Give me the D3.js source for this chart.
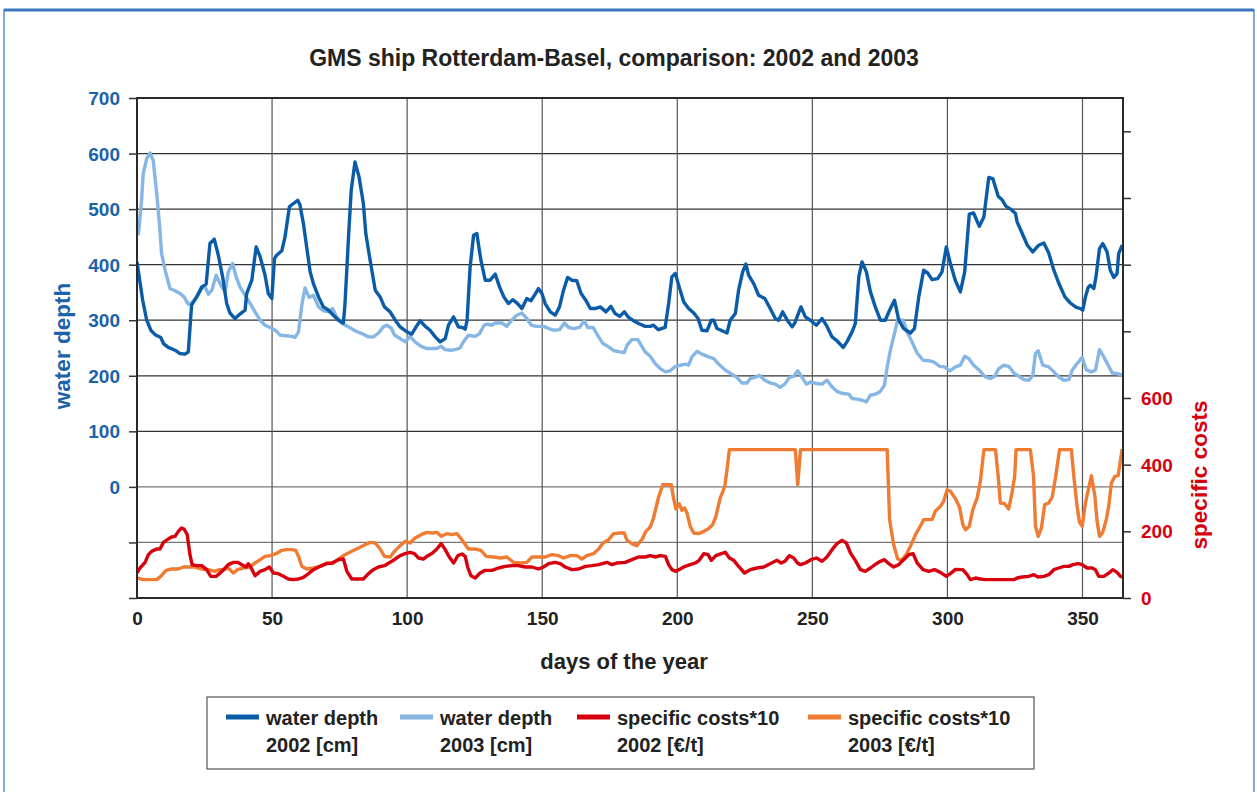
<!DOCTYPE html>
<html>
<head>
<meta charset="utf-8">
<script src="https://cdn.jsdelivr.net/npm/d3@7"></script>
<style>
  body { margin: 0; background: #fff; }
  text { font-family: "Liberation Sans", Arial, sans-serif; font-weight: bold; }
</style>
</head>
<body>
<div id="vis-container"></div>
<script>
// days of the year (x) and values
depth2002 = [[0,405],[2.1,336],[3.6,300],[5.1,282],[6.7,274],[8.8,269],[9.8,258],[11.6,251],[14.1,246],[15.9,240],[17.8,239],[19,243],[20.2,327],[22.1,342],[24,360],[25.6,365],[27,438],[28.6,446],[30.1,417],[31.7,378],[33.2,330],[34.4,313],[36.3,303],[38.1,311],[40,318],[40.6,348],[42.5,372],[44.1,432],[45.6,414],[47.4,381],[48.6,348],[49.9,339],[50.9,411],[51.7,417],[53.6,425],[54.8,450],[56.4,504],[57.9,510],[59.5,516],[60.3,508],[61.6,474],[62.8,432],[64.1,387],[65.3,366],[67.2,342],[69,324],[70.9,318],[72.7,309],[74.6,300],[76.4,295],[77,330],[78.3,450],[79.3,534],[80.7,585],[82.2,558],[83.8,510],[84.7,456],[86.3,408],[88.2,354],[90,342],[91.6,324],[93.7,315],[95.6,300],[97.4,288],[99.9,279],[101.7,275],[103.2,287],[104.8,299],[106.7,289],[108.5,282],[110.4,270],[112.2,261],[114.1,267],[115.3,291],[117.2,306],[119,288],[120.5,287],[121.5,284],[122.2,300],[123.3,395],[124.6,453],[125.8,456],[127.3,408],[128.9,372],[130.7,372],[132.6,383],[134.2,360],[135.8,342],[137.5,330],[139.1,337],[140.9,330],[142.5,321],[144.3,339],[145.8,335],[147.4,347],[148.6,357],[149.9,348],[151.1,330],[153,315],[154.8,309],[156.4,324],[157.9,354],[159.4,377],[161,372],[162.8,371],[164.4,348],[166,337],[167.8,321],[169.6,321],[171.5,324],[173.6,315],[175.4,325],[177,312],[178.7,307],[180.4,315],[182,305],[183.5,300],[185.7,294],[188.1,289],[190,289],[191.2,291],[193,283],[195.5,287],[196.8,330],[198,378],[199.3,384],[200.7,360],[202.4,333],[204.2,321],[206.1,313],[207.7,303],[209.1,282],[211,281],[212.6,300],[213.5,300],[214.7,285],[216.6,281],[218.4,277],[219.6,300],[221.5,312],[222.7,354],[224.2,387],[225.4,401],[226.4,381],[228.3,366],[230.1,345],[232.4,339],[234.4,321],[236.3,303],[237.5,300],[239,315],[240.6,301],[242.5,288],[243.5,295],[244.6,309],[245.8,324],[247.4,306],[249.3,300],[251.5,291],[253.6,303],[255.2,291],[257.3,270],[259.1,263],[261.4,251],[262.8,261],[264.7,279],[265.9,294],[267.2,378],[268.4,405],[270,387],[271.5,351],[273.3,324],[275.2,300],[277,300],[278.6,318],[280.4,336],[282,300],[283.8,285],[286.3,277],[287.8,285],[289.4,342],[291.2,390],[292.7,385],[294.3,373],[296.4,375],[298,387],[299.6,432],[301.1,402],[302.9,372],[304.8,351],[306.4,387],[308.1,491],[309.7,493],[311.8,469],[313.5,486],[315.3,557],[316.8,555],[318.8,523],[320.2,517],[321.7,505],[323.7,499],[325.2,492],[325.8,477],[327.7,456],[329.6,435],[331.6,423],[333.8,435],[335.7,439],[337.5,421],[339.4,390],[341.2,367],[343.5,342],[345.5,331],[347.7,323],[349.3,321],[350.1,318],[351.1,342],[352.1,359],[352.9,363],[354.2,357],[355,378],[356.3,429],[357.5,438],[359.1,423],[360.3,390],[361.6,377],[362.8,384],[363.4,420],[364.7,435]];

depth2003 = [[0.5,453],[1.7,516],[2.3,564],[3.6,591],[4.8,601],[6,588],[7.3,528],[8.3,474],[9.1,420],[10.4,390],[12.2,357],[14.1,353],[15.9,348],[17.4,342],[19,329],[20.2,331],[22.1,342],[24,357],[25.2,360],[26.4,347],[27.7,354],[29.3,381],[30.7,366],[32.6,351],[33.8,387],[35.4,402],[36.7,378],[38.1,360],[40,345],[41.9,330],[43.7,315],[45.6,300],[47.4,291],[49.3,287],[51.5,281],[53,273],[55.4,272],[57.3,271],[58.5,269],[59.8,279],[61,327],[62.2,358],[63.7,341],[65.3,345],[67.2,324],[69,317],[70.9,315],[72.4,321],[73.9,306],[75.8,294],[78.3,288],[80.7,281],[83.2,276],[85.7,270],[87.5,270],[89.4,277],[91.2,288],[92.5,291],[94.1,286],[95.4,273],[97.4,267],[99.3,261],[101.1,271],[102.9,261],[105.2,253],[107.3,249],[109.1,249],[111,249],[112.6,253],[114.1,247],[116,246],[117.8,247],[119.6,250],[120.8,261],[122.7,273],[125.2,271],[126.8,276],[128.5,291],[129.5,293],[131.4,291],[132.6,295],[135.1,295],[136.9,289],[138.8,301],[140.6,309],[142.5,313],[144.3,303],[146,291],[148,289],[150.5,289],[152.4,285],[154.2,282],[156.4,283],[158.2,295],[159.8,287],[161.6,285],[163.8,287],[165.6,299],[166.8,287],[168.8,287],[170.5,273],[172.5,258],[174.6,252],[176.7,245],[178.7,243],[180.4,242],[181.4,255],[183.2,265],[185.4,265],[186.9,253],[188.1,243],[190,235],[191.8,222],[193.7,213],[195.6,207],[197.4,209],[199.3,217],[201.1,219],[202.9,221],[204.2,219],[205.4,234],[207.3,244],[209.1,239],[211.6,234],[213.5,231],[215.3,221],[217.8,210],[220.2,203],[222.1,197],[223.9,187],[225.8,187],[227,195],[228.8,197],[230.4,201],[232.4,192],[234.4,187],[236.3,185],[238.1,179],[239.8,185],[241.5,197],[243.1,199],[244.6,209],[246.2,197],[247.8,185],[249.5,189],[251.5,186],[253.6,185],[255.4,192],[257.3,180],[259.1,172],[261.4,168],[263.5,167],[264.7,159],[266.5,158],[268.4,156],[270,153],[271.5,165],[273.3,167],[275,171],[276.7,183],[277.7,216],[278.9,246],[280.4,276],[281.6,301],[283.6,300],[285.1,279],[286.9,261],[288.8,241],[291,228],[293.1,227],[294.9,225],[297.2,217],[298.9,216],[300.9,209],[303,216],[304.8,219],[306.4,235],[307.9,231],[309.7,219],[311.8,210],[313.8,199],[315.9,195],[317.5,199],[319,213],[320.9,219],[322.7,217],[324.6,205],[326.5,199],[328.3,193],[330.2,192],[331.6,201],[332.6,240],[333.6,245],[335.3,219],[337.5,216],[339.4,207],[341.2,198],[343.1,192],[345,193],[346.2,210],[348,222],[349.9,233],[351.4,211],[353.3,207],[354.8,210],[356.3,247],[357.9,234],[359.5,219],[361,205],[362.8,204],[364.7,201]];

cost2002 = [[0,75],[1.1,90],[3,107],[4.2,130],[5.4,140],[7.3,147],[8.5,147],[9.8,167],[11.2,175],[12.8,183],[14.1,185],[15.3,200],[16.5,210],[17.4,207],[18.6,190],[19.6,130],[20.4,100],[22.1,97],[24,97],[25.8,85],[27.3,65],[29.3,65],[30.5,73],[32,85],[33.8,100],[35.7,107],[37.2,107],[38.8,100],[40.4,93],[41.2,103],[42.1,93],[43.7,67],[45.6,80],[47.4,85],[49,93],[50.5,75],[52.3,73],[54.2,65],[56,57],[57.9,55],[59.8,57],[61.6,62],[63.5,73],[65.3,85],[67.8,95],[70.2,103],[72.1,105],[74.6,115],[76.4,117],[77.7,80],[79.5,57],[81.4,57],[83.8,57],[85.7,73],[87.5,85],[89.4,93],[91.6,97],[93.7,107],[95.6,117],[97.4,127],[99.3,133],[101.1,137],[102.7,133],[104.2,120],[106,117],[107.7,127],[109.4,135],[111,147],[112.6,163],[114.1,145],[115.6,123],[117.2,105],[118.8,127],[120.3,132],[121.5,125],[122.5,90],[123.6,67],[125.2,60],[127,75],[128.9,83],[131.4,83],[133.8,90],[136.3,95],[138.8,97],[141.2,97],[143.7,93],[146.2,93],[148.6,87],[150.5,93],[152.4,103],[154.8,107],[156.7,103],[158.5,93],[161,85],[163.5,87],[166,95],[168.4,97],[170.9,100],[174,107],[175.8,100],[177.7,105],[180.7,107],[183.2,115],[185.7,123],[188.1,123],[190,127],[191.9,123],[193.7,127],[195.6,125],[196.8,100],[198,85],[199.5,80],[201.1,87],[202.9,95],[204.8,100],[206.7,105],[208.1,113],[209.8,133],[211.4,130],[212.6,113],[214.3,127],[216.3,133],[217.8,137],[219.3,120],[220.9,113],[222.7,95],[224.9,75],[227,85],[229.5,90],[232,93],[234.4,103],[236.9,113],[238.5,105],[239.8,110],[241.5,127],[243.1,120],[244.5,105],[245.6,100],[247.4,105],[249.5,115],[251.5,120],[253.6,110],[255.4,123],[257.3,145],[259.1,163],[261,173],[262.6,165],[264.1,135],[265.9,113],[267.8,85],[269.6,80],[271.5,90],[273.7,103],[275.2,110],[276.7,115],[278.3,103],[280.1,93],[282,100],[283.8,115],[285.7,130],[287.3,133],[288.8,105],[291,85],[293.1,80],[295.2,85],[297.4,77],[299.6,65],[301.1,73],[303,86],[305.7,85],[307.3,70],[308.5,55],[310.4,60],[312.2,57],[314,55],[316.5,55],[319,55],[322,55],[324.6,55],[325.8,60],[327.7,63],[330.1,65],[332,70],[333.6,63],[335.7,65],[337.5,70],[339.4,85],[341.2,90],[343.1,95],[345,95],[346.4,100],[348.4,103],[349.9,100],[351.7,90],[353.6,90],[354.8,85],[356,65],[357.9,65],[359.8,75],[361.2,85],[362.8,77],[364.1,65],[364.7,63]];

cost2003 = [[0,60],[2.3,55],[4.8,55],[7.3,55],[8.8,65],[10.7,83],[12.8,87],[15.3,87],[17.2,93],[19.4,93],[21.5,93],[24,87],[26.4,85],[28.9,80],[30.5,85],[32.2,85],[33.8,90],[35.7,75],[37.2,85],[39.4,90],[41.6,93],[43.7,105],[45.6,115],[47.4,125],[49.3,127],[51.5,133],[53.6,143],[55.4,145],[57.3,145],[58.8,143],[59.8,125],[61,95],[62.8,87],[65.3,90],[67.8,95],[70.2,105],[72.4,103],[74.6,117],[77,130],[79.5,140],[82,150],[84.4,160],[86.3,167],[88.2,165],[90,147],[91.6,125],[93.7,123],[95.3,140],[97.4,157],[99.3,170],[101.1,165],[102.9,180],[105.2,190],[107.3,197],[109.4,195],[111,197],[112.6,185],[114.7,193],[116.5,190],[118.4,193],[119.8,180],[121.1,165],[122.7,147],[125.2,147],[127.3,143],[129.3,125],[132,123],[134.5,120],[136.9,123],[139.4,107],[141.9,105],[144.3,107],[146.2,123],[148.6,123],[151.1,123],[153.6,130],[156.1,127],[157.9,120],[160.4,127],[162.8,127],[164.7,117],[166.5,127],[169,133],[170.9,147],[172.5,165],[174.6,175],[176.4,193],[178.7,195],[180.4,195],[181.4,173],[183.2,163],[185,157],[186.9,175],[188.4,200],[190,213],[191.2,240],[193,300],[194.6,340],[196.2,340],[197.8,340],[198.6,300],[199.5,267],[200.7,283],[201.7,263],[202.7,270],[203.6,255],[204.8,215],[206.1,195],[207.9,193],[209.8,200],[211.4,207],[213.1,220],[214.3,245],[215.9,300],[217.6,335],[218.4,385],[219.3,445],[243.7,445],[244.6,340],[245.6,445],[277.7,445],[278.6,235],[280.1,160],[281.6,117],[282.9,113],[284.5,127],[286.3,155],[288.2,190],[289.8,213],[291.2,235],[292.7,235],[294.3,235],[295.5,260],[297.4,275],[298.6,290],[299.9,325],[301.1,320],[303,298],[304.5,272],[305.7,220],[306.7,205],[308.1,215],[309.4,265],[311,300],[312.2,350],[313.5,445],[317.8,445],[318.8,365],[319.6,285],[321.2,283],[322.7,267],[323.9,315],[324.9,365],[325.4,445],[330.7,445],[331.9,365],[332.6,215],[333.6,185],[334.8,210],[336,280],[337.5,285],[338.8,303],[340,360],[341.5,445],[345.9,445],[346.8,365],[348,275],[348.9,227],[349.9,215],[351.1,285],[352.3,330],[353.3,367],[354.6,305],[355.4,230],[356.3,185],[357.5,197],[358.8,235],[359.8,280],[360.7,345],[362,365],[363.2,367],[364.1,415],[364.7,447]];

xTicks = [0,50,100,150,200,250,300,350];
leftTicks = [-200,-100,0,100,200,300,400,500,600,700];
rightTicks = [0,200,400,600,800,1000,1200,1400];

legendItems = [
  {line1: "water depth", line2: "2002 [cm]", color: "#0a5ca8"},
  {line1: "water depth", line2: "2003 [cm]", color: "#86b6e4"},
  {line1: "specific costs*10", line2: "2002 [€/t]", color: "#d7000f"},
  {line1: "specific costs*10", line2: "2003 [€/t]", color: "#f07b32"}
];

chart = {
  "W": 1257, "H": 792,
  "plot": {"left": 137, "right": 1123, "top": 98, "bottom": 598},
  "blue": "#1a62aa", "red": "#d7000f", "ink": "#222"
}

svg = d3.select("#vis-container").append("svg").attr("width", chart.W).attr("height", chart.H);

// outer frame
svg.append("rect").attr("x", 4).attr("y", 10).attr("width", 1250).attr("height", 800)
  .attr("fill", "none").attr("stroke", "#5a8fcf").attr("stroke-width", 1.5);
svg.append("line").attr("x1", 4).attr("x2", 1254).attr("y1", 10).attr("y2", 10)
  .attr("stroke", "#3a76c2").attr("stroke-width", 3);

x = d3.scaleLinear().domain([0, 365]).range([chart.plot.left, chart.plot.right]);
yL = d3.scaleLinear().domain([-200, 700]).range([chart.plot.bottom, chart.plot.top]);
yR = d3.scaleLinear().domain([0, 1500]).range([chart.plot.bottom, chart.plot.top]);

// gridlines
svg.append("g").selectAll("line").data(leftTicks).enter().append("line")
  .attr("x1", chart.plot.left).attr("x2", chart.plot.right)
  .attr("y1", d => yL(d)).attr("y2", d => yL(d))
  .attr("stroke", d => d == 0 || d == -100 ? "#777" : "#333").attr("stroke-width", 1.2);
svg.append("g").selectAll("line").data(xTicks.filter(d => d > 0)).enter().append("line")
  .attr("x1", d => x(d)).attr("x2", d => x(d))
  .attr("y1", chart.plot.top).attr("y2", chart.plot.bottom)
  .attr("stroke", "#555").attr("stroke-width", 1.2);

// series
svg.append("clipPath").attr("id", "clip").append("rect")
  .attr("x", chart.plot.left).attr("y", chart.plot.top)
  .attr("width", chart.plot.right - chart.plot.left).attr("height", chart.plot.bottom - chart.plot.top);

lineL = d3.line().x(d => x(d[0])).y(d => yL(d[1]));
lineR = d3.line().x(d => x(d[0])).y(d => yR(d[1]));

series = [
  {data: cost2003, gen: lineR, color: legendItems[3].color},
  {data: cost2002, gen: lineR, color: legendItems[2].color},
  {data: depth2003, gen: lineL, color: legendItems[1].color},
  {data: depth2002, gen: lineL, color: legendItems[0].color}
];
svg.append("g").attr("clip-path", "url(#clip)").selectAll("path").data(series).enter().append("path")
  .attr("d", d => d.gen(d.data))
  .attr("fill", "none").attr("stroke", d => d.color)
  .attr("stroke-width", 3.4).attr("stroke-linejoin", "round");

// frame of the plot
svg.append("rect").attr("x", chart.plot.left).attr("y", chart.plot.top)
  .attr("width", chart.plot.right - chart.plot.left).attr("height", chart.plot.bottom - chart.plot.top)
  .attr("fill", "none").attr("stroke", "#2a2a2a").attr("stroke-width", 2);

// axes
leftAxis = svg.append("g").attr("transform", "translate(" + chart.plot.left + ",0)")
  .call(d3.axisLeft(yL).tickValues(leftTicks).tickSize(8).tickPadding(9).tickFormat(d => d >= 0 ? d : ""));
leftAxis.select(".domain").remove();
leftAxis.selectAll("line").attr("stroke", "#333").attr("stroke-width", 1.5);
leftAxis.selectAll("text").attr("fill", chart.blue).style("font-size", "19px").attr("dy", "0.35em");

rightAxis = svg.append("g").attr("transform", "translate(" + chart.plot.right + ",0)")
  .call(d3.axisRight(yR).tickValues(rightTicks).tickSize(8).tickPadding(10).tickFormat(d => d <= 600 ? d : ""));
rightAxis.select(".domain").remove();
rightAxis.selectAll("line").attr("stroke", "#333").attr("stroke-width", 1.5);
rightAxis.selectAll("text").attr("fill", chart.red).style("font-size", "19px").attr("dy", "0.35em");

bottomAxis = svg.append("g").attr("transform", "translate(0," + chart.plot.bottom + ")")
  .call(d3.axisBottom(x).tickValues(xTicks).tickSize(0).tickPadding(14));
bottomAxis.select(".domain").remove();
bottomAxis.selectAll("text").attr("fill", chart.ink).style("font-size", "19px");

// titles
svg.append("text").attr("x", 614).attr("y", 66).attr("text-anchor", "middle")
  .attr("fill", chart.ink).style("font-size", "23px")
  .text("GMS ship Rotterdam-Basel, comparison: 2002 and 2003");
svg.append("text").attr("x", 624).attr("y", 669).attr("text-anchor", "middle")
  .attr("fill", chart.ink).style("font-size", "22px").text("days of the year");
svg.append("text").attr("transform", "translate(70,346) rotate(-90)").attr("text-anchor", "middle")
  .attr("fill", chart.blue).style("font-size", "22.5px").text("water depth");
svg.append("text").attr("transform", "translate(1207,475) rotate(-90)").attr("text-anchor", "middle")
  .attr("fill", chart.red).style("font-size", "22.5px").text("specific costs");

// legend
legend = svg.append("g");
legend.append("rect").attr("x", 207).attr("y", 697).attr("width", 827).attr("height", 72)
  .attr("fill", "#fff").attr("stroke", "#555").attr("stroke-width", 1.2);
legendX = d3.scaleOrdinal().domain([0,1,2,3]).range([226, 400, 577, 808]);
entries = legend.selectAll(".entry").data(legendItems).enter().append("g")
  .attr("class", "entry").attr("transform", (d,i) => "translate(" + legendX(i) + ",0)");
entries.append("line").attr("x1", 0).attr("x2", 33).attr("y1", 717).attr("y2", 717)
  .attr("stroke", d => d.color).attr("stroke-width", 5);
entries.append("text").attr("x", 40).attr("y", 725).attr("fill", chart.ink).style("font-size", "20px").text(d => d.line1);
entries.append("text").attr("x", 40).attr("y", 752).attr("fill", chart.ink).style("font-size", "20px").text(d => d.line2);
</script>
</body>
</html>
